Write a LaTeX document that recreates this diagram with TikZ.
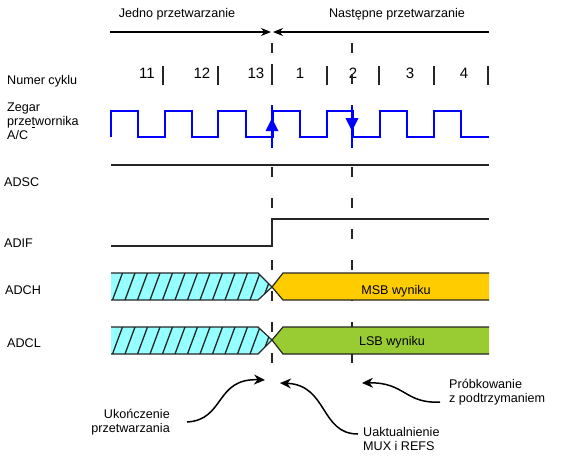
\documentclass[tikz,border=0pt]{standalone}
\usepackage{fontspec}
\setmainfont{Liberation Sans}
\usetikzlibrary{arrows.meta}
\definecolor{clkblue}{RGB}{0,0,255}
\definecolor{hatchcyan}{RGB}{150,255,255}
\definecolor{msborange}{RGB}{255,204,0}
\definecolor{lsbgreen}{RGB}{153,204,51}
\tikzset{
  lbl/.style={font=\fontsize{12.6}{14}\selectfont, inner sep=0pt},
  numlbl/.style={font=\fontsize{15}{17}\selectfont, inner sep=0pt},
  sig/.style={line width=1.4pt, black!85},
  clk/.style={line width=2pt, clkblue},
  bar/.style={line width=2.2pt, black!85},
  dsh/.style={line width=1.8pt, black!85, dash pattern=on 10pt off 21pt},
  bus/.style={line width=1.2pt, black!85},
  hatchln/.style={line width=1.3pt, black!85},
  curv/.style={line width=1.5pt, -{Stealth[length=11pt,width=10pt]}},
}
\begin{document}
\begin{tikzpicture}[x=1pt,y=-1pt]
\useasboundingbox[fill=white] (0,0) rectangle (563,459);
% top header
\node[lbl] (t1) at (177,14) {Jedno przetwarzanie};
\node[lbl] (t2) at (397,14) {Następne przetwarzanie};
\coordinate (hl) at (110,32);
\coordinate (hm1) at (271,32);
\coordinate (hm2) at (273,32);
\coordinate (hr) at (489,32);
\draw[line width=1.3pt,-{Stealth[length=10pt,width=8pt]}] (hl) -- (hm1);
\draw[line width=1.3pt,-{Stealth[length=10pt,width=8pt]}] (hr) -- (hm2);
% left labels
\node[lbl,anchor=west] (lnum) at (7,81) {Numer cyklu};
\node[lbl,anchor=west,align=left] (lclk) at (7,121) {Zegar\\prze\underline{t}wornika\\A/C};
\node[lbl,anchor=west] (ladsc) at (4,182) {ADSC};
\node[lbl,anchor=west] (ladif) at (4,243) {ADIF};
\node[lbl,anchor=west] (ladch) at (5,290) {ADCH};
\node[lbl,anchor=west] (ladcl) at (7,343) {ADCL};
% cycle numbers
\node[numlbl] (n11) at (147,73) {11};
\node[numlbl] (n12) at (202,73) {12};
\node[numlbl] (n13) at (256,73) {13};
\node[numlbl] (n1) at (300,73) {1};
\node[numlbl] (n2) at (353,73) {2};
\node[numlbl] (n3) at (410,73) {3};
\node[numlbl] (n4) at (464,73) {4};
\foreach \x in {163,218,327,379,434,488} \draw[bar] (\x,66) -- (\x,85);
\draw[bar] (272,64) -- (272,85);
% dashed lines
\draw[dsh] (272,43) -- (272,366);
\draw[dsh] (352,43) -- (352,366);
% clock
\draw[clk] (111,137) -- (111,111) -- (138,111) -- (138,137) -- (165,137) -- (165,111)
  -- (192,111) -- (192,137) -- (218,137) -- (218,111) -- (246,111) -- (246,137)
  -- (273,137) -- (273,111) -- (300,111) -- (300,137) -- (327,137) -- (327,111)
  -- (353,111) -- (353,137) -- (380,137) -- (380,111) -- (407,111) -- (407,137)
  -- (434,137) -- (434,111) -- (461,111) -- (461,137) -- (489,137);
\draw[clk] (272,106) -- (272,148);
\draw[clk] (352,106) -- (352,148);
\fill[clkblue] (272,118) -- (278.5,131) -- (265.5,131) -- cycle;
\fill[clkblue] (352,131) -- (358.5,118) -- (345.5,118) -- cycle;
% ADSC
\draw[sig] (111,165) -- (489,165);
% ADIF
\draw[sig] (111,246) -- (272,246) -- (272,219) -- (489,219);
% ADCH bus
\fill[hatchcyan] (111,273) -- (258,273) -- (272,287) -- (258,300) -- (111,300) -- cycle;
\begin{scope}
\clip (111,273) -- (258,273) -- (272,287) -- (258,300) -- (111,300) -- cycle;
\foreach \x in {100,112.5,...,290} \draw[hatchln] (\x,300) -- (\x+10,273);
\end{scope}
\draw[bus] (111,273) -- (258,273) -- (272,287) -- (258,300) -- (111,300);
\fill[msborange] (272,287) -- (283,273) -- (489,273) -- (489,300) -- (283,300) -- cycle;
\draw[bus] (489,273) -- (283,273) -- (272,287) -- (283,300) -- (489,300);
\node[lbl] (msb) at (396,291) {MSB wyniku};
% ADCL bus
\fill[hatchcyan] (111,327) -- (258,327) -- (272,340) -- (258,354) -- (111,354) -- cycle;
\begin{scope}
\clip (111,327) -- (258,327) -- (272,340) -- (258,354) -- (111,354) -- cycle;
\foreach \x in {100,112.5,...,290} \draw[hatchln] (\x,354) -- (\x+10,327);
\end{scope}
\draw[bus] (111,327) -- (258,327) -- (272,340) -- (258,354) -- (111,354);
\fill[lsbgreen] (272,340) -- (283,327) -- (489,327) -- (489,354) -- (283,354) -- cycle;
\draw[bus] (489,327) -- (283,327) -- (272,340) -- (283,354) -- (489,354);
\node[lbl] (lsb) at (392,342) {LSB wyniku};
% bottom annotations
\node[lbl,anchor=east,align=right] (uk) at (170,422) {Ukończenie\\przetwarzania};
\node[lbl,anchor=west,align=left] (ua) at (363,439) {Uaktualnienie\\MUX i REFS};
\node[lbl,anchor=west,align=left] (pr) at (449,392) {Próbkowanie\\z podtrzymaniem};
\coordinate (a1s) at (187,422);
\coordinate (a1e) at (265,380);
\coordinate (a2s) at (358,434);
\coordinate (a2e) at (280,383);
\coordinate (a3s) at (440,402);
\coordinate (a3e) at (362,383);
\draw[curv] (a1s) .. controls (225,420) and (215,378) .. (a1e);
\draw[curv] (a2s) .. controls (320,434) and (328,385) .. (a2e);
\draw[curv] (a3s) .. controls (405,404) and (405,382) .. (a3e);
\end{tikzpicture}
\end{document}
